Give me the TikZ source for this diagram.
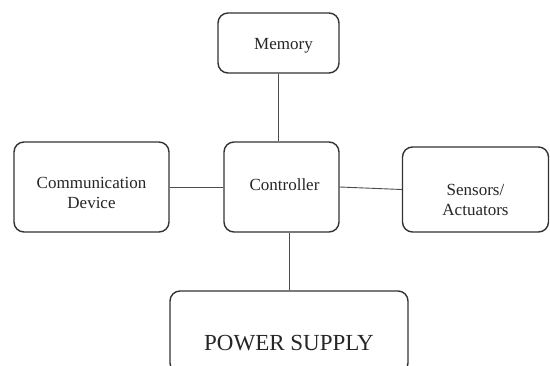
\documentclass[tikz,border=0pt]{standalone}
\usepackage{fontspec}
\setmainfont{Liberation Serif}
\begin{document}
\begin{tikzpicture}[x=1pt,y=-1pt,
  blk/.style={draw=black!80, line width=1.4pt, rounded corners=10pt, inner sep=0pt},
  lbl/.style={text=black!85, font=\fontsize{17}{20}\selectfont, align=center},
  conn/.style={draw=black!70, line width=0.9pt}]
\useasboundingbox (0,0) rectangle (550,365);
\clip (0,0) rectangle (550,365);
\fill[white] (0,0) rectangle (550,365);
\node[blk, minimum width=121pt, minimum height=60pt,
  label={[lbl, xshift=5pt, yshift=-3pt]center:Memory}] (mem) at (278.5,43) {};
\node[blk, minimum width=155pt, minimum height=90pt,
  label={[lbl, yshift=-6pt]center:Communication\\Device}] (comm) at (91.5,187) {};
\node[blk, minimum width=115pt, minimum height=90pt,
  label={[lbl, xshift=3pt, yshift=2pt]center:Controller}] (ctrl) at (281.5,187) {};
\node[blk, minimum width=146pt, minimum height=85pt,
  label={[lbl, yshift=-10pt]center:Sensors/\\Actuators}] (sens) at (475.5,189.5) {};
\node[blk, minimum width=238pt, minimum height=82pt,
  label={[lbl, font=\fontsize{23}{27}\selectfont, yshift=-11pt]center:POWER SUPPLY}] (ps) at (289,332) {};
\draw[conn] (mem.south) -- (mem.south |- ctrl.north);
\draw[conn] (comm.east) -- (ctrl.west);
\draw[conn] (ctrl.east) -- (sens.west);
\draw[conn] (ps.north) -- (ps.north |- ctrl.south);
\end{tikzpicture}
\end{document}
